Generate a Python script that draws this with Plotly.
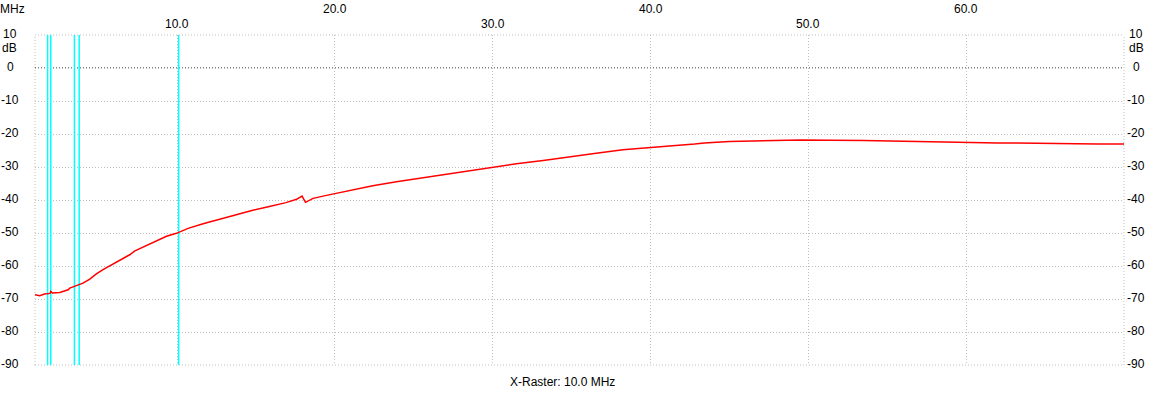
import plotly.graph_objects as go

# Measured trace (frequency in MHz, level in dB)
freq_mhz = [1.0, 1.3, 1.6, 1.95, 2.0, 2.1, 2.57, 3.1, 3.2, 3.72, 4.04, 4.47, 4.89, 5.31,
            5.84, 6.37, 7.0, 7.3, 8.06, 8.69, 9.33, 9.96, 10.7, 11.65, 12.7, 13.76, 14.8,
            15.85, 16.9, 17.57, 17.92, 18.14, 18.62, 19.47, 20.0, 20.95, 22.4, 23.9, 25.38,
            27.07, 28.55, 30.0, 31.5, 33.2, 34.9, 36.56, 38.25, 40.0, 41.2, 42.8, 43.4,
            45.0, 47.4, 49.5, 53.5, 56.5, 62.0, 68.3, 70.0]
level_db = [-68.7, -69.0, -68.5, -68.3, -67.7, -68.2, -68.0, -67.2, -66.7, -65.8, -65.2,
            -64.0, -62.4, -61.1, -59.7, -58.3, -56.6, -55.5, -53.8, -52.2, -51.0, -50.1,
            -48.6, -47.2, -45.8, -44.5, -43.1, -42.0, -40.8, -39.8, -38.8, -40.7, -39.5,
            -38.6, -38.1, -37.0, -35.7, -34.5, -33.4, -32.2, -31.0, -30.0, -29.0, -28.0,
            -26.8, -25.8, -24.8, -24.2, -23.6, -23.0, -22.7, -22.3, -22.0, -21.8, -22.0,
            -22.3, -22.7, -23.0, -23.0]

# Band marker lines (MHz)
marker_mhz = [1.8, 2.0, 3.5, 3.8, 10.1]

# Axes
x_min, x_max = 1.0, 70.0
y_min, y_max = -90, 10
x_ticks = [10, 20, 30, 40, 50, 60]
x_tick_labels = ["10.0", "20.0", "30.0", "40.0", "50.0", "60.0"]
y_ticks = [10, 0, -10, -20, -30, -40, -50, -60, -70, -80, -90]
y_tick_labels = ["10", "0", "-10", "-20", "-30", "-40", "-50", "-60", "-70", "-80", "-90"]

FONT = dict(family="Liberation Sans, Arial, sans-serif", size=12, color="black")
GRID = "#c0c0c0"
DOT = "1px,2px"

fig = go.Figure()

for f in marker_mhz:
    fig.add_trace(go.Scatter(x=[f, f], y=[y_min, y_max], mode="lines",
                             line=dict(color="#00ffff", width=1.5),
                             hoverinfo="skip", showlegend=False))

fig.add_trace(go.Scatter(x=freq_mhz, y=level_db, mode="lines",
                         line=dict(color="#ff0000", width=1.5),
                         showlegend=False))

# border (dotted) and zero line
shapes = []
for xx in (0, 1):
    shapes.append(dict(type="line", xref="paper", yref="paper", x0=xx, x1=xx, y0=0, y1=1,
                       line=dict(color=GRID, width=1, dash=DOT), layer="below"))
for yy in (0, 1):
    shapes.append(dict(type="line", xref="paper", yref="paper", x0=0, x1=1, y0=yy, y1=yy,
                       line=dict(color=GRID, width=1, dash=DOT), layer="below"))
shapes.append(dict(type="line", xref="paper", yref="y", x0=0, x1=1, y0=0, y1=0,
                   line=dict(color="black", width=1, dash=DOT), layer="below"))

annotations = []
for i, (v, t) in enumerate(zip(x_ticks, x_tick_labels)):
    annotations.append(dict(x=v, xref="x", y=1, yref="paper", text=t, showarrow=False,
                            xanchor="center", yanchor="middle",
                            yshift=11 if i % 2 == 0 else 26, font=FONT))
for v, t in zip(y_ticks, y_tick_labels):
    for xp, xs in ((0, -25), (1, 12)):
        annotations.append(dict(x=xp, xref="paper", y=v, yref="y", text=t, showarrow=False,
                                xanchor="center", yanchor="middle", xshift=xs, yshift=1.5,
                                font=FONT))
for xp, xs in ((0, -26), (1, 12)):
    annotations.append(dict(x=xp, xref="paper", y=10, yref="y", text="dB", showarrow=False,
                            xanchor="center", yanchor="middle", xshift=xs, yshift=-13,
                            font=FONT))
annotations.append(dict(x=0, xref="paper", y=1, yref="paper", text="MHz", showarrow=False,
                        xanchor="center", yanchor="middle", xshift=-23, yshift=26, font=FONT))
annotations.append(dict(x=0.484, xref="paper", y=0, yref="paper", text="X-Raster: 10.0 MHz",
                        showarrow=False, xanchor="center", yanchor="middle", yshift=-17,
                        font=FONT))

fig.update_layout(
    width=1159, height=400,
    margin=dict(l=35, r=35, t=35, b=35),
    paper_bgcolor="white", plot_bgcolor="white",
    shapes=shapes, annotations=annotations,
    xaxis=dict(range=[x_min, x_max], tickvals=x_ticks, showticklabels=False,
               showgrid=True, gridcolor=GRID, griddash=DOT, gridwidth=1,
               zeroline=False, showline=False, ticks=""),
    yaxis=dict(range=[y_min, y_max], tickvals=y_ticks, showticklabels=False,
               showgrid=True, gridcolor=GRID, griddash=DOT, gridwidth=1,
               zeroline=False, showline=False, ticks=""),
)

fig.write_html("out.html",
               config={"displayModeBar": False},
               post_script="document.body.style.margin='0';document.body.style.overflow='hidden';")
